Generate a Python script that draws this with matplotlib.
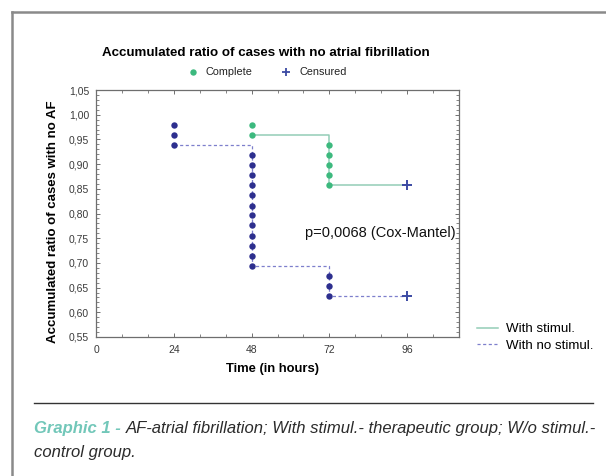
import matplotlib

matplotlib.use("Agg")
import matplotlib.pyplot as plt
from matplotlib.lines import Line2D
from matplotlib.ticker import MultipleLocator

# ─── Data ────────────────────────────────────────────────────────────────────

# event times (hours) and accumulated ratio after each event
stim_times = [48, 48, 72, 72, 72, 72, 72]
stim_ratio = [0.980, 0.959, 0.939, 0.918, 0.898, 0.878, 0.857]
stim_censor_times = [96]
stim_censor_ratio = [0.857]

nostim_times = [24, 24, 24] + [48] * 12 + [72, 72, 72]
nostim_ratio = [0.980, 0.959, 0.939,
                0.918, 0.898, 0.878, 0.857, 0.837, 0.816,
                0.796, 0.776, 0.755, 0.735, 0.714, 0.694,
                0.673, 0.653, 0.633]
nostim_censor_times = [96]
nostim_censor_ratio = [0.633]

x_ticks = [0, 24, 48, 72, 96]
y_ticks = [0.55, 0.60, 0.65, 0.70, 0.75, 0.80, 0.85, 0.90, 0.95, 1.00, 1.05]
y_tick_labels = ["0,55", "0,60", "0,65", "0,70", "0,75", "0,80",
                 "0,85", "0,90", "0,95", "1,00", "1,05"]

p_label = "p=0,0068 (Cox-Mantel)"
caption_head = "Graphic 1 - "
caption_line1 = "AF-atrial fibrillation; With stimul.- therapeutic group; W/o stimul.-"
caption_line2 = "control group."

# ─── Style ───────────────────────────────────────────────────────────────────

W, H = 606, 476
GREEN_DOT = "#3cb97e"
BLUE_DOT = "#2d2f8e"
GREEN_LINE = "#93cdb6"
BLUE_LINE = "#7d7fcc"
CROSS = "#3b4aa3"
TEAL = "#72c7b9"
FONT = "Liberation Sans"
CAP_SIZE = 12.0

plt.rcParams["font.family"] = [FONT, "DejaVu Sans"]


def fx(px):
    return px / W


def fy(py):
    return 1 - py / H


def step_path(times, ratio, c_times, c_ratio):
    """Last ratio reached at each event time, then the censored point."""
    xs, ys = [], []
    for t, r in zip(times, ratio):
        if xs and xs[-1] == t:
            ys[-1] = r
        else:
            xs.append(t)
            ys.append(r)
    return xs + c_times, ys + c_ratio


fig = plt.figure(figsize=(W / 100, H / 100), dpi=100, facecolor="white")
ax = fig.add_axes([fx(96), fy(337), fx(459) - fx(96), fy(90) - fy(337)])

sx, sy = step_path(stim_times, stim_ratio, stim_censor_times, stim_censor_ratio)
nx, ny = step_path(nostim_times, nostim_ratio, nostim_censor_times, nostim_censor_ratio)

(l_stim,) = ax.step(sx, sy, where="post", color=GREEN_LINE, lw=1.1, zorder=2)
(l_nostim,) = ax.step(nx, ny, where="post", color=BLUE_LINE, lw=0.9,
                      linestyle=(0, (2.5, 2)), zorder=2)

ax.plot(nostim_times, nostim_ratio, "o", color=BLUE_DOT, ms=4.6, mew=0, zorder=3)
ax.plot(stim_times, stim_ratio, "o", color=GREEN_DOT, ms=4.6, mew=0, zorder=3)
ax.plot(stim_censor_times + nostim_censor_times,
        stim_censor_ratio + nostim_censor_ratio,
        "+", color=CROSS, ms=7, mew=1.4, zorder=4)

ax.set_xlim(0, 112)
ax.set_ylim(0.55, 1.05)
ax.set_xticks(x_ticks)
ax.set_xticklabels([str(t) for t in x_ticks])
ax.set_yticks(y_ticks)
ax.set_yticklabels(y_tick_labels)
ax.xaxis.set_minor_locator(MultipleLocator(8))
ax.yaxis.set_minor_locator(MultipleLocator(0.01))
ax.tick_params(which="both", direction="in", top=True, right=True,
               colors="#707070", labelcolor="#3a3a3a", labelsize=7.5)
ax.tick_params(which="major", length=3, width=0.7)
ax.tick_params(which="minor", length=2, width=0.6)
ax.tick_params(axis="x", pad=6)
ax.tick_params(axis="y", pad=5)
for spine in ax.spines.values():
    spine.set_color("#6e6e6e")
    spine.set_linewidth(0.9)

fig.text(fx(456), fy(233), p_label, ha="right", va="center", fontsize=10.5,
         color="#111111")

ax.set_xlabel("Time (in hours)", fontsize=9.4, fontweight="bold")
ax.set_ylabel("Accumulated ratio of cases with no AF", fontsize=9.5,
              fontweight="bold")
ax.xaxis.set_label_coords(fx(272), fy(363), transform=fig.transFigure)
ax.yaxis.set_label_coords(fx(59), fy(222), transform=fig.transFigure)

fig.text(fx(266), fy(53), "Accumulated ratio of cases with no atrial fibrillation",
         ha="center", va="center", fontsize=9.6, fontweight="bold")

# marker key above the plot
fig.add_artist(Line2D([fx(193)], [fy(72)], marker="o", color=GREEN_DOT,
                      ms=4.6, mew=0, transform=fig.transFigure))
fig.text(fx(206), fy(72), "Complete", ha="left", va="center", fontsize=7.8,
         color="#222222")
fig.add_artist(Line2D([fx(286)], [fy(72)], marker="+", color=CROSS,
                      ms=6, mew=1.3, transform=fig.transFigure))
fig.text(fx(300), fy(72), "Censured", ha="left", va="center", fontsize=7.8,
         color="#222222")

fig.legend([l_stim, l_nostim], ["With stimul.", "With no stimul."],
           loc="upper left", bbox_to_anchor=(fx(477), fy(323)),
           frameon=False, fontsize=9.6, handlelength=1.6, handletextpad=0.6,
           labelspacing=0.3, borderaxespad=0, borderpad=0)

# page frame and caption
fig.add_artist(Line2D([fx(12), fx(12)], [0, fy(12)], color="#8a8a8a", lw=1.8,
                      transform=fig.transFigure))
fig.add_artist(Line2D([fx(12), 1], [fy(12), fy(12)], color="#8a8a8a", lw=1.8,
                      transform=fig.transFigure))
fig.add_artist(Line2D([fx(34), fx(593)], [fy(403), fy(403)], color="#333333",
                      lw=1.0, transform=fig.transFigure))

cap = fig.text(fx(34), fy(429), caption_head, ha="left", va="center",
               fontsize=CAP_SIZE, style="italic", fontweight="bold", color=TEAL)
fig.canvas.draw()
bb = cap.get_window_extent()
fig.text(bb.x1 / W, fy(429), caption_line1, ha="left", va="center",
         fontsize=CAP_SIZE, style="italic", color="#2b2b2b")
fig.text(fx(34), fy(453), caption_line2, ha="left", va="center",
         fontsize=CAP_SIZE, style="italic", color="#2b2b2b")

fig.savefig("out.png", dpi=100, facecolor="white")
